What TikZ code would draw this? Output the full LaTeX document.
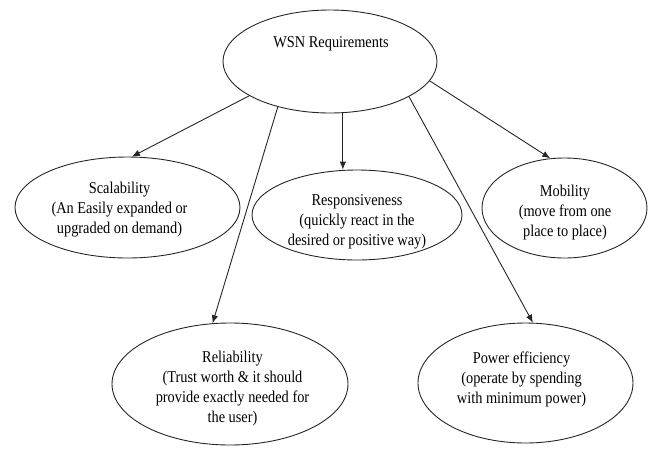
\documentclass[tikz,border=0pt]{standalone}
\usepackage{fontspec}
\setmainfont{Liberation Serif}[FakeStretch=0.87]
\usetikzlibrary{shapes.geometric,arrows.meta}
\begin{document}
\begin{tikzpicture}[x=1pt,y=-1pt,
  ell/.style={draw=black!85,line width=0.9pt,ellipse,inner sep=0pt},
  lbl/.style={align=center,anchor=base,inner sep=0pt,font=\fontsize{16.5}{20}\selectfont},
  arr/.style={draw=black!85,line width=0.9pt,-{Latex[length=8pt,width=6.5pt]}}]
\useasboundingbox (0,0) rectangle (649,448);
% ellipses
\node[ell,minimum width=214pt,minimum height=103pt] (top) at (330,61.5) {};
\node[ell,minimum width=225pt,minimum height=101pt] (scal) at (127.5,207.5) {};
\node[ell,minimum width=210pt,minimum height=90pt] (resp) at (357,215) {};
\node[ell,minimum width=165pt,minimum height=100pt] (mob) at (564.5,208) {};
\node[ell,minimum width=236pt,minimum height=122pt] (rel) at (230,384) {};
\node[ell,minimum width=215pt,minimum height=120pt] (pow) at (525.5,383) {};
% texts (base anchor = baseline of the last line)
\node[lbl] (ttop) at (331,47) {WSN Requirements};
\node[lbl] (tscal) at (119.5,233.5) {Scalability\\(An Easily expanded or\\upgraded on demand)};
\node[lbl] (tresp) at (357,245.5) {Responsiveness\\(quickly react in the\\desired or positive way)};
\node[lbl] (tmob) at (565,236.5) {Mobility\\(move from one\\place to place)};
\node[lbl] (trel) at (232.5,422.5) {Reliability\\(Trust worth \& it should\\provide exactly needed for\\the user)};
\node[lbl] (tpow) at (521.5,403) {Power efficiency\\(operate by spending\\with minimum power)};
% connectors
\draw[arr] (top.203) -- (scal.85);
\draw[arr] (top.221) -- (rel.106);
\draw[arr] (top.284) -- (top.284 |- resp.north);
\draw[arr] (top.336) -- (pow.83);
\draw[arr] (top.349) -- (mob.106);
\end{tikzpicture}
\end{document}
